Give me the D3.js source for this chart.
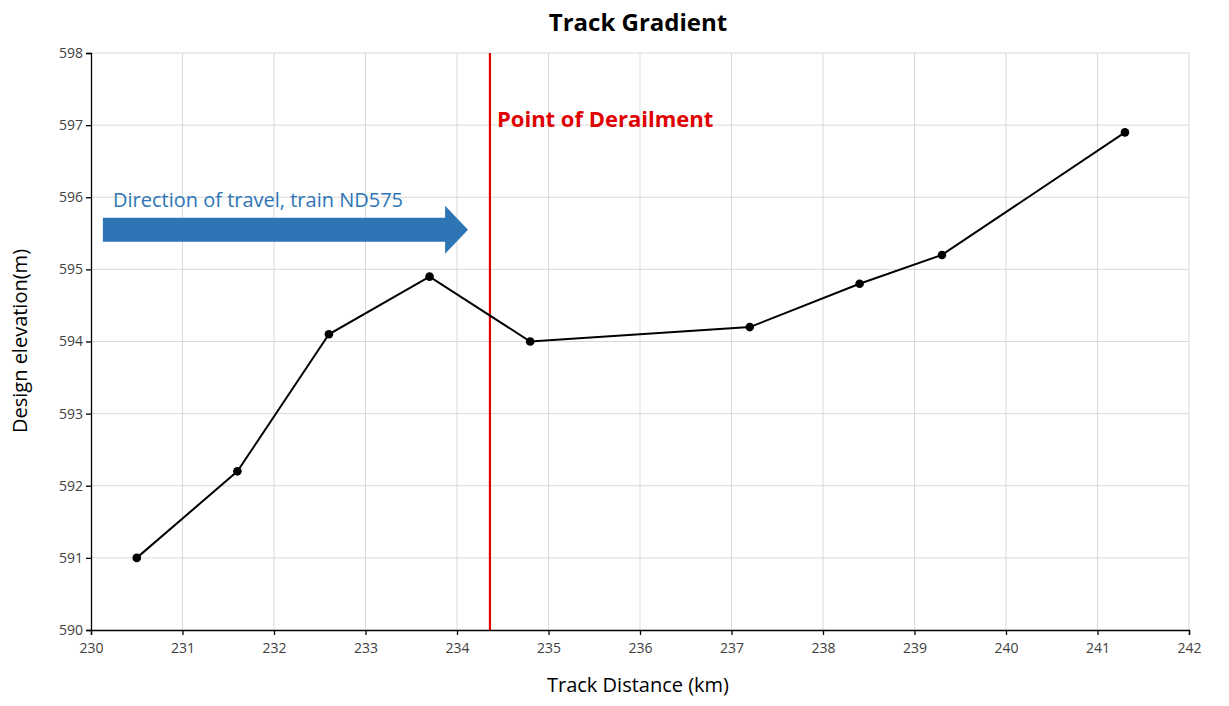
<!DOCTYPE html>
<html><head><meta charset="utf-8">
<script src="https://cdn.jsdelivr.net/npm/d3@7"></script>
<style>body{margin:0;background:#fff;font-family:"Open Sans",sans-serif}</style>
</head><body>
<svg id="c" width="1229" height="706"></svg>
<script>
const distance = [230.5, 231.6, 232.6, 233.7, 234.8, 237.2, 238.4, 239.3, 241.3];
const elevation = [591.0, 592.2, 594.1, 594.9, 594.0, 594.2, 594.8, 595.2, 596.9];
const xTicks = [230,231,232,233,234,235,236,237,238,239,240,241,242];
const yTicks = [590,591,592,593,594,595,596,597,598];
const derailKm = 234.36;
const arrowStart = 230.13, arrowBodyEnd = 233.87, arrowTip = 234.12, arrowY = 595.55;

const svg = d3.select("#c");
const x = d3.scaleLinear().domain([230,242]).range([91,1189]);
const y = d3.scaleLinear().domain([590,598]).range([630,53]);

svg.append("g").selectAll("line").data(xTicks.slice(1)).join("line")
  .attr("x1",d=>x(d)).attr("x2",d=>x(d)).attr("y1",53).attr("y2",630).attr("stroke","#d9d9d9");
svg.append("g").selectAll("line").data(yTicks.slice(1)).join("line")
  .attr("x1",91).attr("x2",1189).attr("y1",d=>y(d)).attr("y2",d=>y(d)).attr("stroke","#d9d9d9");

const xa = svg.append("g").attr("transform","translate(0,630)")
  .call(d3.axisBottom(x).tickValues(xTicks).tickSize(5).tickFormat(d3.format("d")));
const ya = svg.append("g").attr("transform","translate(91,0)")
  .call(d3.axisLeft(y).tickValues(yTicks).tickSize(5).tickFormat(d3.format("d")));
[xa,ya].forEach(a=>{a.selectAll("text").attr("font-size",14).attr("font-family","Open Sans").attr("fill","#404040");
  a.selectAll("path,line").attr("stroke","#000").attr("stroke-width",1.3);});
xa.selectAll("text").attr("dy","1.1em");

const ay = y(arrowY), h = 12;
svg.append("path").attr("fill","#2E75B6").attr("d",
 `M${x(arrowStart)},${ay-h}L${x(arrowBodyEnd)},${ay-h}L${x(arrowBodyEnd)},${ay-24}L${x(arrowTip)},${ay}L${x(arrowBodyEnd)},${ay+24}L${x(arrowBodyEnd)},${ay+h}L${x(arrowStart)},${ay+h}Z`);
svg.append("text").attr("x",113).attr("y",207).attr("fill","#2E75B6").attr("font-size",20)
  .text("Direction of travel, train ND575");

svg.append("line").attr("x1",x(derailKm)).attr("x2",x(derailKm)).attr("y1",53).attr("y2",630)
  .attr("stroke","#e00000").attr("stroke-width",2.2);
svg.append("text").attr("x",497).attr("y",127).attr("fill","#e00000").attr("font-size",22).attr("font-weight","bold")
  .text("Point of Derailment");

const pts = distance.map((d,i)=>[d,elevation[i]]);
svg.append("path").datum(pts).attr("fill","none").attr("stroke","#000").attr("stroke-width",2)
  .attr("d",d3.line().x(d=>x(d[0])).y(d=>y(d[1])));
svg.append("g").selectAll("circle").data(pts).join("circle")
  .attr("cx",d=>x(d[0])).attr("cy",d=>y(d[1])).attr("r",4.3).attr("fill","#000");

svg.append("text").attr("x",638).attr("y",31).attr("text-anchor","middle").attr("font-size",24).attr("font-weight","bold").text("Track Gradient");
svg.append("text").attr("x",638).attr("y",692).attr("text-anchor","middle").attr("font-size",20).text("Track Distance (km)");
svg.append("text").attr("transform","translate(27,341) rotate(-90)").attr("text-anchor","middle").attr("font-size",20).text("Design elevation(m)");
</script></body></html>
